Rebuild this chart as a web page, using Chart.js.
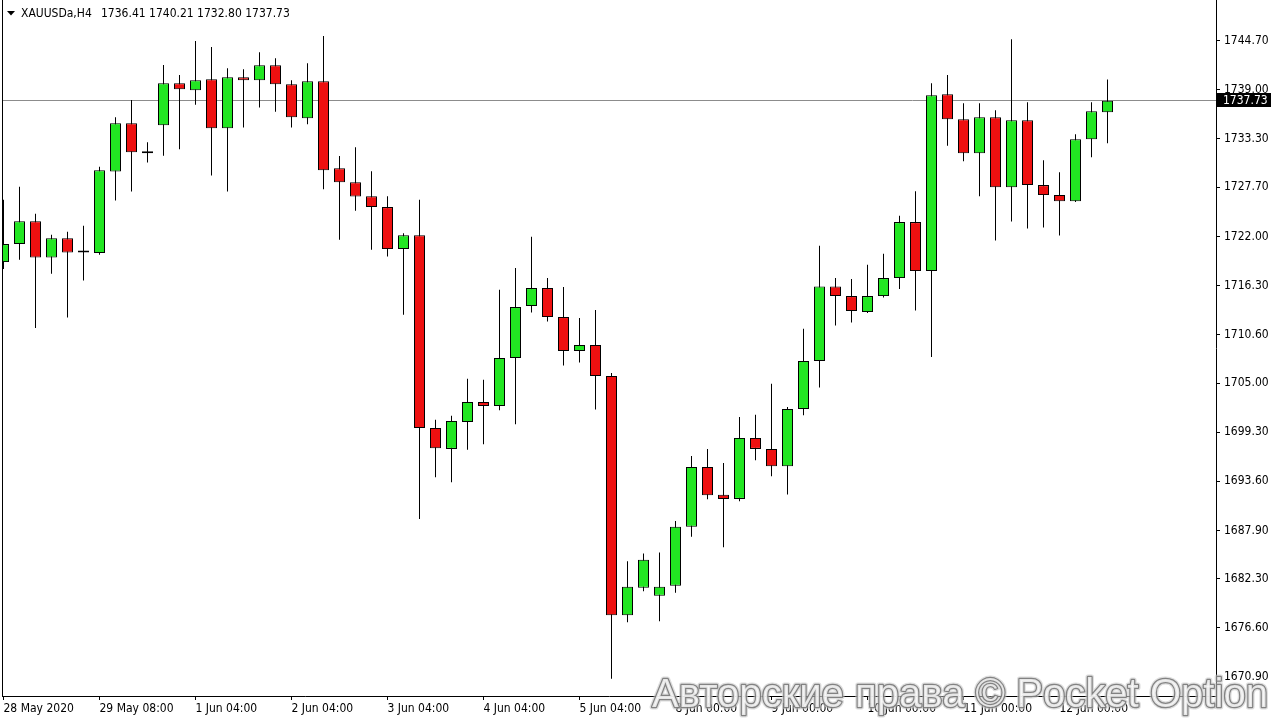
<!DOCTYPE html>
<html><head><meta charset="utf-8">
<script src="https://cdn.jsdelivr.net/npm/chart.js@4.4.1/dist/chart.umd.min.js"></script>
<style>html,body{margin:0;padding:0;background:#fff;}canvas{display:block;}</style>
</head><body>
<canvas id="c" width="1280" height="720" style="width:1280px;height:720px"></canvas>
<script>
const symbolTitle = 'XAUUSDa,H4';
const opens = [1719.02,1721.11,1723.77,1719.56,1721.80,1720.14,1720.07,1729.52,1735.13,1731.65,
1734.90,1739.76,1738.95,1740.23,1734.55,1740.46,1740.11,1741.85,1739.65,1735.71,
1740.00,1729.91,1728.29,1726.67,1725.40,1720.53,1722.15,1699.79,1697.36,1700.48,
1702.80,1702.34,1707.90,1713.93,1716.01,1712.65,1708.71,1709.41,1705.81,1678.07,
1681.25,1680.32,1681.48,1688.32,1695.27,1692.03,1691.56,1698.63,1697.36,1695.34,
1701.99,1707.55,1716.20,1715.08,1713.23,1715.08,1717.17,1723.66,1717.98,1738.49,
1735.59,1731.65,1735.82,1727.71,1735.48,1727.95,1726.79,1726.09,1733.28,1736.41];
const highs = [1726.24,1727.75,1724.62,1722.19,1722.53,1723.23,1730.07,1735.82,1737.83,1732.93,
1741.88,1740.73,1744.67,1743.97,1741.50,1741.39,1743.36,1742.66,1740.11,1742.08,
1745.24,1731.34,1732.35,1729.57,1726.67,1722.38,1726.24,1700.75,1701.21,1705.50,
1705.39,1715.81,1718.33,1721.95,1717.17,1716.13,1712.53,1713.46,1706.16,1684.33,
1685.22,1685.34,1689.01,1696.54,1697.36,1695.73,1701.06,1701.33,1704.92,1702.22,
1711.29,1720.91,1717.17,1717.05,1718.71,1719.99,1724.39,1727.25,1739.76,1740.73,
1737.45,1737.45,1736.64,1744.86,1737.56,1730.84,1729.45,1733.85,1737.56,1740.21];
const lows = [1718.21,1719.29,1711.38,1717.67,1712.60,1716.89,1719.87,1726.16,1727.20,1730.56,
1731.37,1732.12,1737.28,1729.06,1727.20,1734.62,1736.94,1736.47,1734.62,1735.01,
1727.48,1721.61,1724.97,1720.45,1719.67,1712.92,1689.24,1694.07,1693.49,1697.27,
1697.89,1701.83,1700.21,1713.18,1712.14,1707.04,1707.39,1701.94,1670.71,1677.26,
1680.86,1677.38,1680.67,1687.16,1691.52,1685.95,1691.28,1696.03,1694.18,1692.06,
1701.25,1704.49,1711.68,1712.02,1713.11,1714.92,1715.89,1713.42,1708.02,1732.53,
1730.73,1726.67,1721.53,1723.73,1722.92,1723.03,1722.11,1725.98,1731.19,1732.80];
const closes = [1721.11,1723.77,1719.56,1721.80,1720.14,1720.14,1729.68,1735.13,1731.77,1731.88,
1739.76,1739.07,1740.11,1734.55,1740.46,1740.11,1741.85,1739.65,1735.82,1740.00,
1729.68,1728.29,1726.62,1725.40,1720.53,1722.15,1699.79,1697.43,1700.60,1702.80,
1702.34,1707.90,1713.81,1716.01,1712.65,1708.71,1709.41,1705.81,1678.07,1681.37,
1684.49,1681.37,1688.32,1695.27,1691.98,1691.56,1698.63,1697.36,1695.34,1701.99,
1707.55,1716.20,1715.08,1713.35,1715.08,1717.17,1723.66,1717.98,1738.37,1735.59,
1731.65,1735.82,1727.71,1735.48,1727.95,1726.79,1726.09,1733.28,1736.52,1737.73];
const xTickIndex = [0,6,12,18,24,30,36,42,48,54,60,66];
const xTickLabels = ['28 May 2020','29 May 08:00','1 Jun 04:00','2 Jun 04:00','3 Jun 04:00','4 Jun 04:00',
'5 Jun 04:00','8 Jun 00:00','9 Jun 00:00','10 Jun 00:00','11 Jun 00:00','12 Jun 00:00'];
const yTicks = [1744.70,1739.00,1733.30,1727.70,1722.00,1716.30,1710.60,1705.00,1699.30,1693.60,1687.90,1682.30,1676.60,1670.90];
const watermark = 'Авторские права © Pocket Option';

const FONT = "'DejaVu Sans Condensed','DejaVu Sans',sans-serif";
const GREEN = '#22e622';
const RED = '#ee1010';

const overlay = {
  id: 'overlay',
  beforeDatasetsDraw(chart) {
    const {ctx, chartArea: a, scales: {y}} = chart;
    const py = Math.floor(y.getPixelForValue(closes[closes.length - 1])) + 0.5;
    ctx.save();
    ctx.strokeStyle = '#8c8c8c';
    ctx.lineWidth = 1;
    ctx.beginPath(); ctx.moveTo(a.left, py); ctx.lineTo(a.right, py); ctx.stroke();
    ctx.restore();
  },
  afterDraw(chart) {
    const {ctx, chartArea: a, scales: {y}} = chart;
    ctx.save();
    ctx.strokeStyle = '#000'; ctx.lineWidth = 1;
    ctx.beginPath(); ctx.moveTo(2.5, 0); ctx.lineTo(2.5, a.bottom); ctx.stroke();
    ctx.fillStyle = '#000';
    ctx.beginPath(); ctx.moveTo(7, 11); ctx.lineTo(15, 11); ctx.lineTo(11, 15.5); ctx.closePath(); ctx.fill();
    ctx.font = "12px " + FONT;
    ctx.textBaseline = 'alphabetic'; ctx.textAlign = 'left';
    const n = closes.length - 1;
    ctx.fillText(symbolTitle, 21, 17);
    ctx.fillText([opens[n], highs[n], lows[n], closes[n]].map(v => v.toFixed(2)).join(' '), 101, 17);
    const py = Math.floor(y.getPixelForValue(closes[n])) + 0.5;
    ctx.fillStyle = '#000';
    ctx.fillRect(1217, Math.round(py - 7.5), 54, 14);
    ctx.fillStyle = '#fff';
    ctx.textBaseline = 'middle';
    ctx.fillText(closes[n].toFixed(2), 1223, py);
    let fs = 40;
    ctx.font = fs + "px 'Liberation Sans', Arial, sans-serif";
    const w = ctx.measureText(watermark).width;
    fs = fs * 616 / w;
    ctx.font = fs.toFixed(2) + "px 'Liberation Sans', Arial, sans-serif";
    ctx.textBaseline = 'alphabetic';
    ctx.lineJoin = 'round';
    ctx.strokeStyle = 'rgba(200,200,200,0.6)'; ctx.lineWidth = 5;
    ctx.strokeText(watermark, 652, 707);
    ctx.strokeStyle = 'rgba(120,120,120,0.9)'; ctx.lineWidth = 2.5;
    ctx.strokeText(watermark, 652, 707);
    ctx.fillStyle = 'rgba(255,255,255,0.8)';
    ctx.fillText(watermark, 652, 707);
    ctx.restore();
  }
};

new Chart(document.getElementById('c'), {
  type: 'bar',
  data: {
    datasets: [
      {
        label: 'body',
        data: opens.map((o, i) => ({x: i, y: [o, closes[i]]})),
        backgroundColor: opens.map((o, i) => closes[i] >= o ? GREEN : RED),
        borderColor: '#000', borderWidth: 1, borderSkipped: false,
        barThickness: 11, minBarLength: 2, grouped: false, inflateAmount: 0, order: 0
      },
      {
        label: 'wick',
        data: lows.map((l, i) => ({x: i, y: [l, highs[i]]})),
        backgroundColor: '#000', borderWidth: 0,
        barThickness: 1, grouped: false, inflateAmount: 0, order: 1
      }
    ]
  },
  options: {
    responsive: false, animation: false, devicePixelRatio: 1,
    layout: {autoPadding: false, padding: {left: 2, top: 0, right: 0, bottom: 0}},
    plugins: {legend: {display: false}, tooltip: {enabled: false}, title: {display: false}},
    scales: {
      x: {
        type: 'linear', min: -0.09375, max: 75.78125, offset: false,
        grid: {display: true, drawOnChartArea: false, drawTicks: true, tickLength: 4, color: '#000', offset: false},
        border: {display: true, color: '#000', width: 1},
        ticks: {
          autoSkip: false, maxRotation: 0, minRotation: 0, align: 'start', padding: 2, color: '#000',
          font: {family: FONT, size: 12},
          callback: (v) => { const k = xTickIndex.indexOf(v); return k >= 0 ? xTickLabels[k] : ''; }
        },
        afterBuildTicks: (s) => { s.ticks = xTickIndex.map(v => ({value: v})); },
        afterFit: (s) => { s.height = 24; s.paddingLeft = 0; s.paddingRight = 0; }
      },
      y: {
        type: 'linear', position: 'right', min: 1668.70, max: 1749.42,
        grid: {display: true, drawOnChartArea: false, drawTicks: true, tickLength: 4, color: '#000'},
        border: {display: true, color: '#000', width: 1},
        ticks: {padding: 4, color: '#000', font: {family: FONT, size: 12}, callback: (v) => Number(v).toFixed(2)},
        afterBuildTicks: (s) => { s.ticks = yTicks.map(v => ({value: v})); },
        afterFit: (s) => { s.width = 64; s.paddingTop = 0; s.paddingBottom = 0; }
      }
    }
  },
  plugins: [overlay]
});
</script>
</body></html>
